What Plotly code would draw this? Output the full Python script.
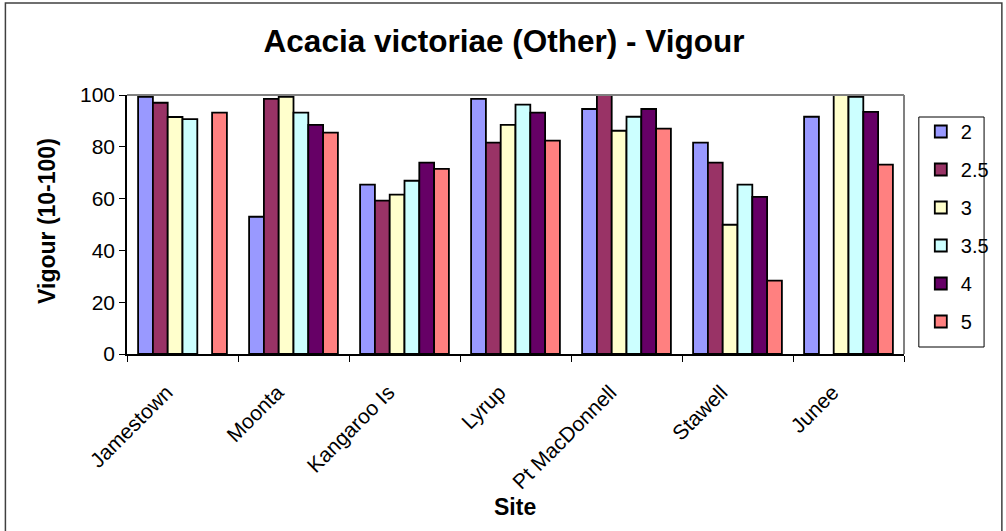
import plotly.graph_objects as go

sites = ["Jamestown", "Moonta", "Kangaroo Is", "Lyrup", "Pt MacDonnell", "Stawell", "Junee"]
series_names = ["2", "2.5", "3", "3.5", "4", "5"]
v_2 = [99.3, 53.0, 65.4, 98.5, 94.6, 81.6, 91.6]
v_2_5 = [97.0, 98.5, 59.2, 81.6, 100.0, 73.9, None]
v_3 = [91.5, 99.3, 61.5, 88.5, 86.2, 49.9, 100.0]
v_3_5 = [90.7, 93.2, 66.9, 96.3, 91.6, 65.4, 99.3]
v_4 = [None, 88.5, 73.9, 93.2, 94.6, 60.7, 93.5]
v_5 = [93.2, 85.5, 71.5, 82.4, 87.0, 28.3, 73.1]
series_values = [v_2, v_2_5, v_3, v_3_5, v_4, v_5]
colors = ["#9999FF", "#993366", "#FFFFCC", "#CCFFFF", "#660066", "#FF8080"]

FONT = "Liberation Sans, Arial, sans-serif"

L, R, T, B = 127, 93, 95, 177
PW, PH = 1006 - L - R, 531 - T - B


def px_x(px):
    return (px - L) / PW


def px_y(py):
    return (531 - B - py) / PH


fig = go.Figure()
for i, (name, vals) in enumerate(zip(series_names, series_values)):
    fig.add_trace(go.Bar(
        x=sites, y=vals, name=name, legendgroup=f"g{i}",
        marker=dict(color=colors[i], line=dict(color="black", width=1.8)),
    ))

fig.update_layout(
    width=1006, height=531, autosize=False,
    margin=dict(l=L, r=R, t=T, b=B),
    paper_bgcolor="white", plot_bgcolor="white",
    font=dict(family=FONT, color="black", size=20),
    barmode="group", bargap=0.2, bargroupgap=0,
    title=dict(text="<b>Acacia victoriae (Other) - Vigour</b>", x=0.501, xanchor="center",
               y=1 - 41 / 531, yanchor="middle", font=dict(size=31.5, family=FONT, color="black")),
    legend=dict(x=px_x(930), xanchor="left", y=px_y(112), yanchor="top",
                borderwidth=0, bgcolor="rgba(0,0,0,0)",
                font=dict(size=20, family=FONT, color="black"),
                tracegroupgap=9, itemwidth=30),
    showlegend=True,
)
fig.update_xaxes(showline=True, linecolor="black", linewidth=1.5, ticks="outside", ticklen=6,
                 tickcolor="black", tickson="boundaries", tickangle=-45, showgrid=False,
                 ticklabelstandoff=16, ticklabelshift=-16,
                 tickfont=dict(size=21, family=FONT, color="black"))
fig.update_yaxes(range=[0, 100], dtick=20, showline=True, linecolor="black", linewidth=1.5,
                 ticks="outside", ticklen=6, tickcolor="black", showgrid=False, zeroline=False,
                 tickfont=dict(size=21, family=FONT, color="black"))

# plot area top/right border (gray)
fig.add_shape(type="line", xref="paper", yref="paper", x0=0, x1=1, y0=1, y1=1,
              line=dict(color="#808080", width=2))
fig.add_shape(type="line", xref="paper", yref="paper", x0=1, x1=1, y0=0, y1=1,
              line=dict(color="#808080", width=2))
# chart outer border
fig.add_shape(type="rect", xref="paper", yref="paper",
              x0=px_x(4), x1=px_x(1012), y0=px_y(536), y1=px_y(3),
              line=dict(color="#404040", width=1.5))
# legend box
fig.add_shape(type="rect", xref="paper", yref="paper",
              x0=px_x(928), x1=px_x(994), y0=px_y(347), y1=px_y(117),
              line=dict(color="black", width=1), fillcolor="white", layer="below")

fig.add_annotation(text="<b>Vigour (10-100)</b>", xref="paper", yref="paper",
                   x=px_x(46), y=px_y(221), textangle=-90, showarrow=False,
                   xanchor="center", yanchor="middle", font=dict(size=23, family=FONT, color="black"))
fig.add_annotation(text="<b>Site</b>", xref="paper", yref="paper",
                   x=px_x(519), y=px_y(507), showarrow=False,
                   xanchor="center", yanchor="middle", font=dict(size=23, family=FONT, color="black"))

fig.write_html("out.html", config={"displayModeBar": False},
               post_script="document.body.style.margin='0';")
